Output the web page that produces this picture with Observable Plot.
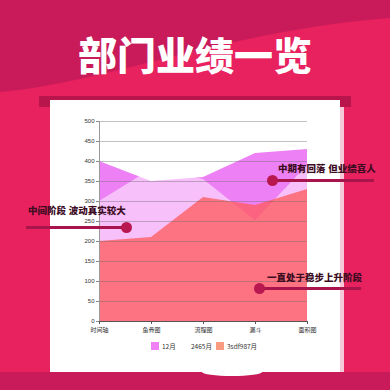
<!DOCTYPE html>
<html><head><meta charset="utf-8">
<script src="https://cdn.jsdelivr.net/npm/d3@7"></script>
<script src="https://cdn.jsdelivr.net/npm/@observablehq/plot@0.6"></script>
<style>
body{margin:0;width:390px;height:390px;overflow:hidden;position:relative;font-family:"Noto Sans CJK SC","Noto Sans",sans-serif;background:#c91b5a}
.abs{position:absolute}
#title{left:0;top:34px;width:390px;text-align:center;color:#fff;font-size:39px;font-weight:900;line-height:1;white-space:nowrap}
.note{font-family:"Liberation Sans","Noto Sans CJK SC",sans-serif;font-size:9.5px;font-weight:900;color:#3d0c1f;line-height:10px;white-space:nowrap}
.line{height:3px;background:#a8144b}
.dot{width:11px;height:11px;border-radius:50%;background:#b8174f}
.lg{font-size:6.5px;color:#333;line-height:8px;white-space:nowrap}
.sw{width:8px;height:8px}
#chart{left:50px;top:107px}
</style></head><body>
<svg class="abs" width="390" height="390" style="left:0;top:0">
  <rect width="390" height="390" fill="#c91b5a"/>
  <path d="M0,92 C110,82 230,30 390,18 L390,372 L0,372 Z" fill="#e8215f"/>
  <rect x="39" y="96" width="312" height="11" fill="#b8154c"/>
  <rect x="50" y="100" width="290" height="272" fill="#fff"/>
  <rect x="340" y="107" width="4" height="265" fill="#f6c9d8"/>
  <rect x="0" y="372" width="390" height="18" fill="#c91b5a"/>
  <ellipse cx="232" cy="372" rx="30" ry="4" fill="#fff"/>
</svg>
<div id="title" class="abs">部门业绩一览</div>
<div id="chart" class="abs"></div>

<div class="abs note" style="left:278px;top:164px">中期有回落 但业绩喜人</div>
<div class="abs line" style="left:273px;top:179px;width:101px"></div>
<div class="abs dot" style="left:267px;top:175px"></div>

<div class="abs note" style="left:28px;top:206px">中间阶段 波动真实较大</div>
<div class="abs line" style="left:26px;top:226px;width:101px"></div>
<div class="abs dot" style="left:121px;top:222px"></div>

<div class="abs note" style="left:267px;top:273px">一直处于稳步上升阶段</div>
<div class="abs line" style="left:260px;top:287px;width:101px"></div>
<div class="abs dot" style="left:254px;top:283px"></div>

<div class="abs sw" style="left:151px;top:342px;background:#ef7ff5"></div>
<div class="abs lg" style="left:162px;top:342px" id="lg0"></div>
<div class="abs sw" style="left:181px;top:342px;background:#ffffff"></div>
<div class="abs lg" style="left:191px;top:342px" id="lg1"></div>
<div class="abs sw" style="left:216px;top:342px;background:#f99b80"></div>
<div class="abs lg" style="left:227px;top:342px" id="lg2"></div>

<script>
const categories = ["时间轴", "鱼骨图", "流程图", "漏斗", "面积图"];
const seriesNames = ["12月", "2465月", "3sdf987月"];
const series12 = [400, 350, 360, 420, 430];
const series2465 = [300, 380, 355, 252, 390];
const series3sdf = [200, 210, 310, 290, 330];
const yTicks = [0, 50, 100, 150, 200, 250, 300, 350, 400, 450, 500];

const rows = vals => categories.map((c, i) => ({cat: c, v: vals[i]}));

seriesNames.forEach((n, i) => document.getElementById("lg" + i).textContent = n);

const chart = Plot.plot({
  width: 290, height: 240,
  marginLeft: 49, marginRight: 33, marginTop: 14, marginBottom: 26,
  style: {fontFamily: '"Liberation Sans", "Noto Sans CJK SC", sans-serif', fontSize: "6px", color: "#333", background: "transparent"},
  x: {type: "point", domain: categories, padding: 0, label: null},
  y: {domain: [0, 500], label: null},
  marks: [
    Plot.areaY(rows(series12), {x: "cat", y: "v", fill: "#ee80f5"}),
    Plot.areaY(rows(series2465), {x: "cat", y: "v", fill: "#ffffff", fillOpacity: 0.5}),
    Plot.areaY(rows(series3sdf), {x: "cat", y: "v", fill: "#ff5a5a", fillOpacity: 0.75}),
    Plot.ruleY(yTicks.slice(1), {stroke: "#666", strokeOpacity: 0.4}),
    Plot.ruleX([categories[0]], {stroke: "#999"}),
    Plot.ruleY([0], {stroke: "#555"}),
    Plot.axisY(yTicks, {tickSize: 3, tickPadding: 2, label: null, stroke: "#888"}),
    Plot.axisX(categories, {tickSize: 3, tickPadding: 3.5, label: null, stroke: "#555"})
  ]
});
document.getElementById("chart").appendChild(chart);
</script>
</body></html>
